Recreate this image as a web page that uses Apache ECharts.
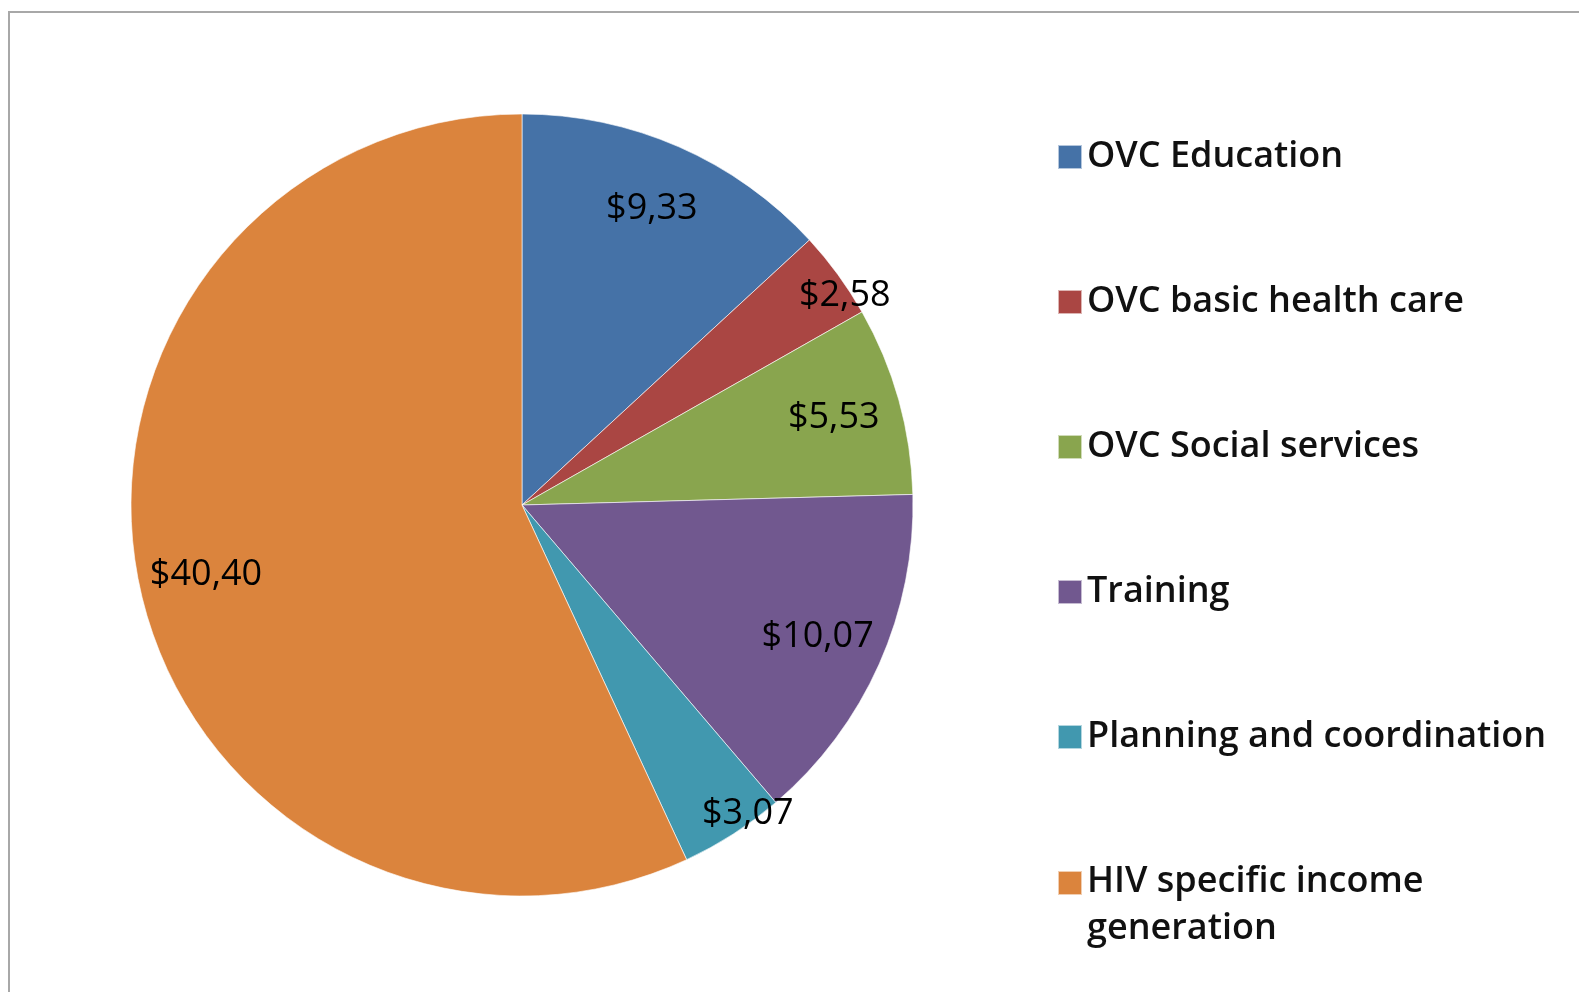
<!DOCTYPE html>
<html>
<head>
<meta charset="utf-8">
<script src="https://cdn.jsdelivr.net/npm/echarts@6/dist/echarts.min.js"></script>
<style>
  html, body { margin: 0; padding: 0; background: #fff; }
  #main { width: 1579px; height: 992px; }
</style>
</head>
<body>
<div id="main"></div>
<script>
// categories and values
const categories = ['OVC Education', 'OVC basic health care', 'OVC Social services',
  'Training', 'Planning and coordination', 'HIV specific income generation'];
const amounts = [9.33, 2.58, 5.53, 10.07, 3.07, 40.40];
const colors = ['#4572A7', '#AA4643', '#89A54E', '#71588F', '#4198AF', '#DB843D'];

const CX = 522, CY = 505, R = 391;

let chart = echarts.init(document.getElementById('main'));

let pieData = categories.map((name, i) => ({ name: name, value: amounts[i] }));

let option = {
  animation: false,
  color: colors,
  graphic: [{
    type: 'rect',
    shape: { x: 9, y: 12, width: 2000, height: 2000 },
    style: { fill: 'none', stroke: '#a8a8a8', lineWidth: 2 },
    silent: true,
    z: -10
  }],
  legend: {
    orient: 'vertical',
    left: 1052,
    top: 129,
    height: 1200,
    itemWidth: 24,
    itemHeight: 24,
    itemGap: 99,
    icon: 'rect',
    textStyle: {
      fontFamily: 'Open Sans',
      fontSize: 36,
      fontWeight: 600,
      color: '#111',
      lineHeight: 46,
      rich: {
        // second line hangs below the first so the box stays on line one
        b: {
          fontFamily: 'Open Sans',
          fontSize: 36,
          fontWeight: 600,
          color: '#111',
          lineHeight: 2,
          height: 48,
          verticalAlign: 'top'
        }
      }
    },
    formatter: function (name) {
      if (name === 'HIV specific income generation') {
        return 'HIV specific income\n{b|generation}';
      }
      return name;
    }
  },
  series: [
    {
      type: 'pie',
      center: [CX, CY],
      radius: R,
      clockwise: true,
      startAngle: 90,
      data: pieData,
      label: { show: false },
      labelLine: { show: false },
      itemStyle: { borderColor: 'rgba(255,255,255,0.6)', borderWidth: 1 },
      silent: true
    },
    {
      // transparent ring, only carries the value labels
      type: 'pie',
      center: [CX, CY],
      radius: [R * 0.64, R],
      startAngle: 90,
      data: pieData,
      itemStyle: { color: 'rgba(0,0,0,0)' },
      silent: true,
      legendHoverLink: false,
      label: {
        show: true,
        position: 'inside',
        fontFamily: 'Open Sans',
        fontSize: 36,
        color: '#000',
        formatter: function (p) {
          return '$' + p.value.toFixed(2).replace('.', ',');
        }
      },
      labelLine: { show: false },
      labelLayout: function (p) {
        if (amounts[p.dataIndex] > 4) return {};
        const lx = p.labelRect.x + p.labelRect.width / 2;
        const ly = p.labelRect.y + p.labelRect.height / 2;
        return { dx: (lx - CX) * 0.12 + 30, dy: (ly - CY) * 0.12 + 4 };
      }
    }
  ]
};

chart.setOption(option);
</script>
</body>
</html>
